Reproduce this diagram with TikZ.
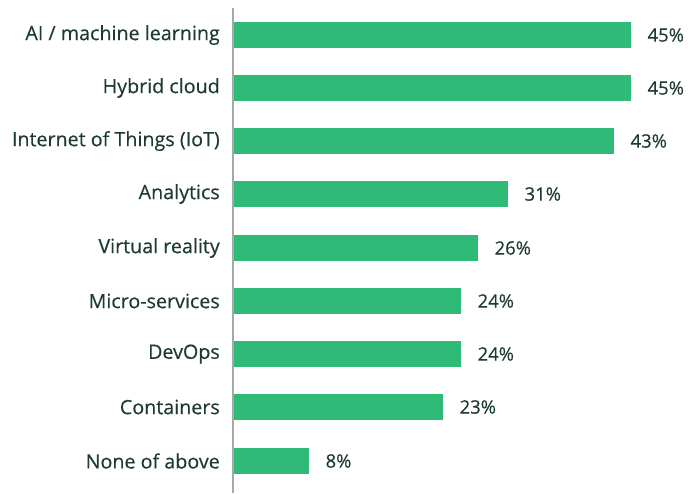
\documentclass[tikz,border=0pt]{standalone}
\usepackage{fontspec}
\newfontfamily\chartfont{Open Sans}[FakeBold=0.35]
\definecolor{bargreen}{HTML}{30BA78}
\definecolor{txt}{HTML}{1D3B34}
\definecolor{axisgray}{HTML}{A8A8A8}
\begin{document}
\begin{tikzpicture}[x=1pt,y=-1pt,
  bar/.style={fill=bargreen,draw=none,inner sep=0pt,minimum height=26pt,anchor=west},
  cat/.style={text=txt,anchor=east,inner sep=0pt,font=\chartfont\fontsize{19.7}{22}\selectfont},
  val/.style={text=txt,anchor=west,inner sep=0pt,font=\chartfont\fontsize{18.5}{22}\selectfont}]
\useasboundingbox (0,0) rectangle (688,493);
\coordinate (axtop) at (233,8);
\coordinate (axbot) at (233,493);
\draw[axisgray,line width=1.2pt] (axtop) -- (axbot);
\foreach \name/\lab/\len/\y/\v in {
  b1/{AI / machine learning}/397/35/45\%,
  b2/{Hybrid cloud}/397/88/45\%,
  b3/{Internet of Things (IoT)}/380/141/43\%,
  b4/{Analytics}/274/194/31\%,
  b5/{Virtual reality}/244/248/26\%,
  b6/{Micro-services}/227/301/24\%,
  b7/{DevOps}/227/354/24\%,
  b8/{Containers}/209/407/23\%,
  b9/{None of above}/75/461/8\%}{
  \node[bar,minimum width=\len pt] (\name) at (234,\y) {};
  \node[cat] (\name c) at (220,\y) {\lab};
  \node[val] (\name v) at ([xshift=16pt]\name.east) {\v};
}
\end{tikzpicture}
\end{document}
